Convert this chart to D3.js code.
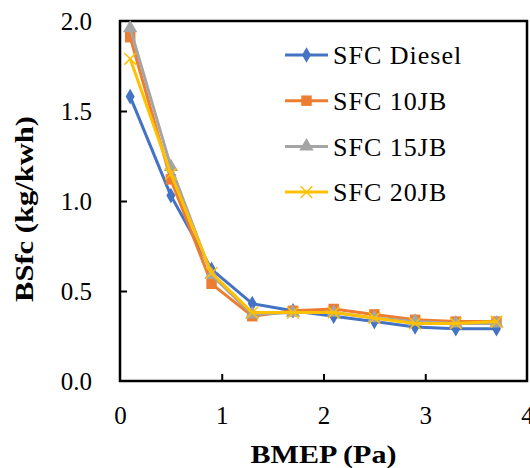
<!DOCTYPE html>
<html><head><meta charset="utf-8">
<script src="https://cdn.jsdelivr.net/npm/d3@7"></script>
<style>
body{margin:0;background:#fff;}
</style></head>
<body><svg id="c" width="530" height="468" font-family="Liberation Serif"></svg>
<script>
const bmep = [0.1, 0.5, 0.9, 1.3, 1.7, 2.1, 2.5, 2.9, 3.3, 3.7];
const sfcDiesel = [1.58, 1.03, 0.62, 0.43, 0.39, 0.36, 0.33, 0.30, 0.29, 0.29];
const sfc10JB   = [1.91, 1.12, 0.54, 0.36, 0.39, 0.40, 0.37, 0.34, 0.33, 0.33];
const sfc15JB   = [1.96, 1.19, 0.59, 0.37, 0.38, 0.38, 0.35, 0.33, 0.32, 0.32];
const sfc20JB   = [1.79, 1.15, 0.60, 0.38, 0.38, 0.38, 0.35, 0.32, 0.32, 0.33];
const seriesNames = ["SFC Diesel", "SFC 10JB", "SFC 15JB", "SFC 20JB"];
const xTicks = [0, 1, 2, 3, 4];
const yTicks = [0.0, 0.5, 1.0, 1.5, 2.0];
const xTitle = "BMEP (Pa)";
const yTitle = "BSfc (kg/kwh)";

const FONT = "Liberation Serif";

const series = [
  {name: seriesNames[0], values: sfcDiesel, color: "#4472C4", marker: "diamond"},
  {name: seriesNames[1], values: sfc10JB, color: "#ED7D31", marker: "square"},
  {name: seriesNames[2], values: sfc15JB, color: "#A5A5A5", marker: "triangle"},
  {name: seriesNames[3], values: sfc20JB, color: "#FFC000", marker: "cross"}
];

const svg = d3.select("#c");
const L = 120, R = 527, T = 21, B = 381;
const x = d3.scaleLinear().domain([0, 4]).range([L, R]);
const y = d3.scaleLinear().domain([0, 2]).range([B, T]);

// axes
const xa = svg.append("g").attr("transform", `translate(0,${B})`)
  .call(d3.axisBottom(x).tickValues(xTicks).tickSizeInner(-7).tickSizeOuter(0).tickPadding(25).tickFormat(d3.format("d")));
const ya = svg.append("g").attr("transform", `translate(${L},0)`)
  .call(d3.axisLeft(y).tickValues(yTicks).tickSizeInner(-7).tickSizeOuter(0).tickPadding(28).tickFormat(d3.format(".1f")));
[xa, ya].forEach(a => {
  a.attr("font-family", FONT).attr("font-size", 25);
  a.select(".domain").remove();
  a.selectAll("line").attr("stroke", "#000").attr("stroke-width", 2);
  a.selectAll("text").attr("font-family", FONT).attr("font-size", 25).attr("fill", "#000");
});
xa.selectAll(".tick").filter(d => d === 0 || d === 4).select("line").remove();
ya.selectAll(".tick").filter(d => d === 0 || d === 2).select("line").remove();
ya.selectAll("text").attr("dy", "0.34em");

// frame
svg.append("rect").attr("x", L).attr("y", T).attr("width", R - L).attr("height", B - T)
  .attr("fill", "none").attr("stroke", "#000").attr("stroke-width", 2.5);

// titles
svg.append("text").attr("x", (L + R) / 2).attr("y", 463).attr("text-anchor", "middle")
  .attr("font-family", FONT).attr("font-size", 25).attr("font-weight", "bold")
  .attr("textLength", 146).attr("lengthAdjust", "spacingAndGlyphs").text(xTitle);
svg.append("text").attr("transform", `translate(33,${(T + B) / 2 + 8}) rotate(-90)`).attr("text-anchor", "middle")
  .attr("font-family", FONT).attr("font-size", 25).attr("font-weight", "bold")
  .attr("textLength", 186).attr("lengthAdjust", "spacingAndGlyphs").text(yTitle);

const line = d3.line().x((d, i) => x(bmep[i])).y(d => y(d));

function drawMarker(g, type, color, cx, cy) {
  if (type === "diamond") {
    g.append("path").attr("d", d3.symbol(d3.symbolDiamond, 70)()).attr("transform", `translate(${cx},${cy})`).attr("fill", color);
  } else if (type === "square") {
    g.append("path").attr("d", d3.symbol(d3.symbolSquare, 110)()).attr("transform", `translate(${cx},${cy})`).attr("fill", color);
  } else if (type === "triangle") {
    g.append("path").attr("d", d3.symbol(d3.symbolTriangle, 90)()).attr("transform", `translate(${cx},${cy})`).attr("fill", color);
  } else {
    g.append("path").attr("d", d3.symbol(d3.symbolX, 90)()).attr("transform", `translate(${cx},${cy})`).attr("fill", "none").attr("stroke", color).attr("stroke-width", 1.5);
  }
}

series.forEach(s => {
  const g = svg.append("g");
  g.append("path").datum(s.values).attr("d", line).attr("fill", "none").attr("stroke", s.color).attr("stroke-width", 3).attr("stroke-linejoin", "round");
  s.values.forEach((v, i) => drawMarker(g, s.marker, s.color, x(bmep[i]), y(v)));
});

// legend
const lg = svg.append("g");
series.forEach((s, i) => {
  const yy = 55 + i * 45.7;
  lg.append("line").attr("x1", 285).attr("x2", 328).attr("y1", yy).attr("y2", yy).attr("stroke", s.color).attr("stroke-width", 3);
  drawMarker(lg, s.marker, s.color, 306.5, yy);
  lg.append("text").attr("x", 333).attr("y", yy).attr("dy", "0.35em")
    .attr("font-family", FONT).attr("font-size", 26).attr("letter-spacing", "1px").text(s.name);
});
</script></body></html>
